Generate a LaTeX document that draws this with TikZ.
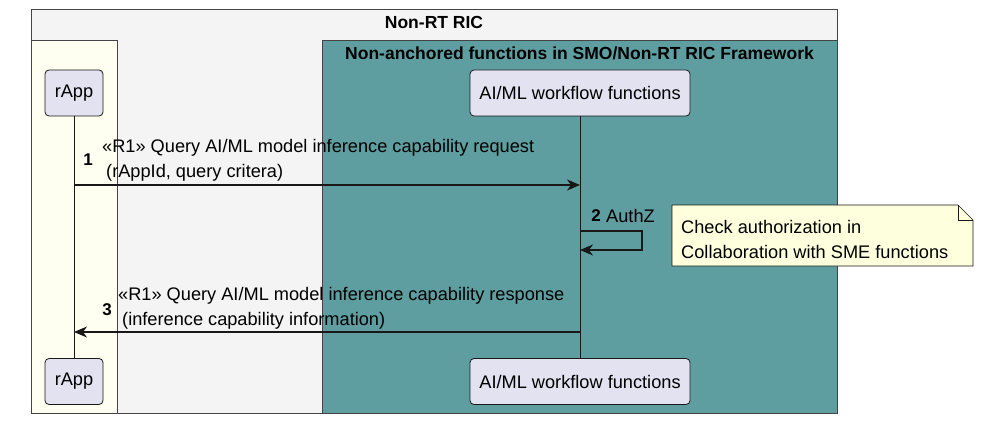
\documentclass[tikz,border=0pt]{standalone}
\usepackage{fontspec}
\setmainfont{Liberation Sans}
\usetikzlibrary{arrows.meta}
\definecolor{lineclr}{HTML}{181818}
\definecolor{boxclr}{HTML}{444444}
\definecolor{outerfill}{HTML}{F4F4F4}
\definecolor{ivoryfill}{HTML}{FEFFF0}
\definecolor{tealfill}{HTML}{5F9EA0}
\definecolor{partfill}{HTML}{E2E2F0}
\definecolor{notefill}{HTML}{FEFFDD}
\tikzset{
  regular/.style={font=\fontsize{18.2}{25}\selectfont},
  boldtitle/.style={font=\bfseries\fontsize{17.5}{20}\selectfont},
  part/.style={draw=lineclr, fill=partfill, rounded corners=4pt, line width=0.8pt,
    minimum height=46pt, inner sep=0pt, regular},
  msgline/.style={draw=lineclr, line width=1.2pt, -{Stealth[length=13pt,width=11pt,inset=4pt]}},
  lifeline/.style={draw=lineclr, line width=0.8pt},
  grp/.style={draw=boxclr, line width=0.8pt},
  num/.style={font=\bfseries\fontsize{17}{20}\selectfont, inner sep=0pt},
  msgtext/.style={regular, align=left, inner sep=0pt, anchor=west},
}
\begin{document}
\begin{tikzpicture}[x=1pt,y=-1pt]
\useasboundingbox (0,0) rectangle (981,422);
% group boxes
\draw[grp, fill=outerfill] (31,9) rectangle (837,413);
\draw[grp, fill=ivoryfill] (31,40) rectangle (117,413);
\draw[grp, fill=tealfill] (322,40) rectangle (837,413);
\node[boldtitle, inner sep=0pt] (ric) at (434,22) {Non-RT RIC};
\node[boldtitle, inner sep=0pt] (naf) at (579.5,53) {Non-anchored functions in SMO/Non-RT RIC Framework};
% participants
\node[part, minimum width=58pt] (rtop) at (74,93) {rApp};
\node[part, minimum width=220pt] (atop) at (580,93) {AI/ML workflow functions};
\node[part, minimum width=58pt] (rbot) at (74,381.5) {rApp};
\node[part, minimum width=220pt] (abot) at (580,381.5) {AI/ML workflow functions};
% lifelines
\draw[lifeline] (rtop) -- (rbot);
\draw[lifeline] (atop) -- (abot);
% message 1
\coordinate (m1s) at (74,185);
\coordinate (m1e) at (580,185);
\draw[msgline] (m1s) -- (m1e);
\node[num] (n1) at (88,160) {1};
\node[msgtext] (t1) at (102,160.5) {«R1» Query AI/ML model inference capability request\\\hspace*{4pt}(rAppId, query critera)};
% message 2 (self)
\coordinate (m2s) at (580,231);
\coordinate (m2e) at (580,250);
\draw[msgline] (m2s) -- (642,231) -- (642,250) -- (m2e);
\node[num] (n2) at (596,216) {2};
\node[regular, anchor=west, inner sep=0pt] (t2) at (606,216) {AuthZ};
% note
\coordinate (nnw) at (672,205);
\coordinate (nfold) at (958,205);
\coordinate (nfold2) at (973,220);
\coordinate (nse) at (973,266);
\coordinate (nsw) at (672,266);
\draw[draw=lineclr, line width=0.6pt, fill=notefill] (nnw) -- (nfold) -- (nfold2) -- (nse) -- (nsw) -- cycle;
\draw[draw=lineclr, line width=0.6pt] (nfold) -- (958,220) -- (nfold2);
\node[msgtext] (note) at (681,239) {Check authorization in\\Collaboration with SME functions};
% message 3
\coordinate (m3s) at (580,332);
\coordinate (m3e) at (74,332);
\draw[msgline] (m3s) -- (m3e);
\node[num] (n3) at (107,310) {3};
\node[msgtext] (t3) at (118,308.5) {«R1» Query AI/ML model inference capability response\\\hspace*{4pt}(inference capability information)};
\end{tikzpicture}
\end{document}
